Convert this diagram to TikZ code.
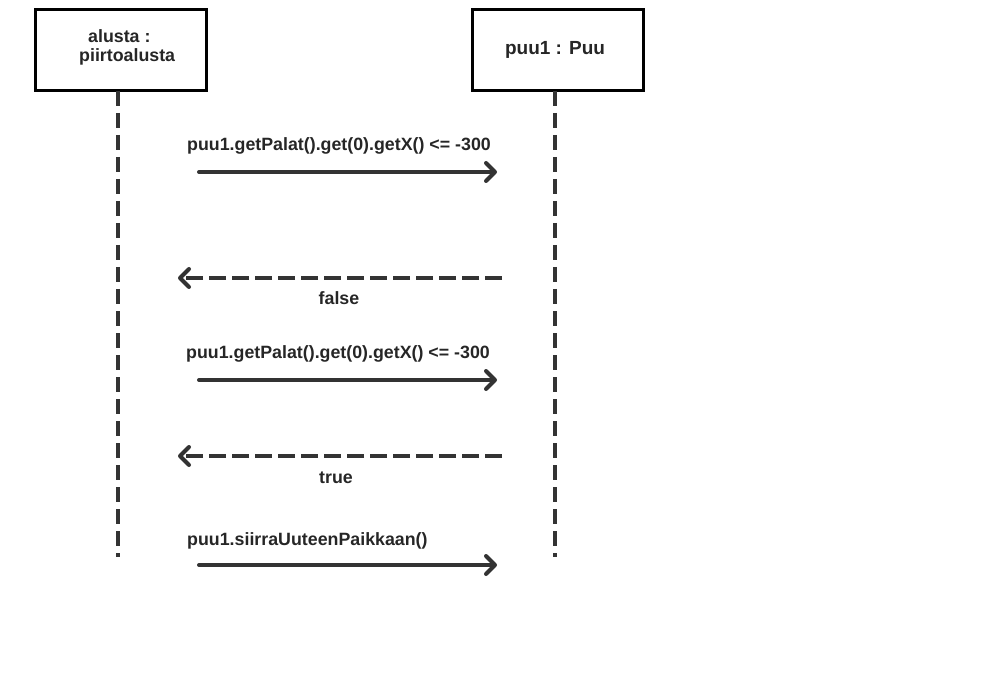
\documentclass[tikz,border=0pt]{standalone}
\usepackage{fontspec}
\setmainfont{Liberation Sans}
\usetikzlibrary{arrows.meta}
\begin{document}
\begin{tikzpicture}[x=1pt,y=-1pt,
  objbox/.style={draw=black,line width=3pt,fill=white},
  life/.style={draw=black!80,line width=4pt,dash pattern=on 15pt off 7pt},
  msg/.style={draw=black!80,line width=4pt,line cap=round,-{Straight Barb[length=9pt,width=18pt,round,line width=4pt]}},
  ret/.style={msg,dash pattern=on 17pt off 6pt,line cap=butt},
  lbl/.style={font=\bfseries\fontsize{17.8}{20}\selectfont,text=black!85,inner sep=0pt},
]
\useasboundingbox (0,0) rectangle (1000,700);
\draw[objbox] (35,10) rectangle (206,91);
\draw[objbox] (472,10) rectangle (643,91);
\node[lbl,anchor=west] (a1) at (88,36) {alusta :};
\node[lbl,anchor=west] (a2) at (79,57) {piirtoalusta};
\node[lbl,font=\bfseries\fontsize{19}{21}\selectfont] (p) at (555,50) {puu1 : Puu};
\coordinate (l1t) at (118,91); \coordinate (l1b) at (118,557);
\coordinate (l2t) at (555,91); \coordinate (l2b) at (555,557);
\draw[life] (l1t) -- (l1b);
\draw[life] (l2t) -- (l2b);
\coordinate (m1s) at (199,172); \coordinate (m1e) at (497,172);
\coordinate (r1s) at (502,278); \coordinate (r1e) at (178,278);
\coordinate (m2s) at (199,380); \coordinate (m2e) at (497,380);
\coordinate (r2s) at (502,456); \coordinate (r2e) at (178,456);
\coordinate (m3s) at (199,565); \coordinate (m3e) at (497,565);
\draw[msg] (m1s) -- (m1e);
\draw[ret] (r1s) -- (r1e);
\draw[msg] (m2s) -- (m2e);
\draw[ret] (r2s) -- (r2e);
\draw[msg] (m3s) -- (m3e);
\node[lbl,anchor=west] (t1) at (187,146) {puu1.getPalat().get(0).getX() <= -300};
\node[lbl] (t2) at (339,298) {false};
\node[lbl,anchor=west] (t3) at (186,354) {puu1.getPalat().get(0).getX() <= -300};
\node[lbl] (t4) at (336,478) {true};
\node[lbl,anchor=west] (t5) at (187,541) {puu1.siirraUuteenPaikkaan()};
\end{tikzpicture}
\end{document}
